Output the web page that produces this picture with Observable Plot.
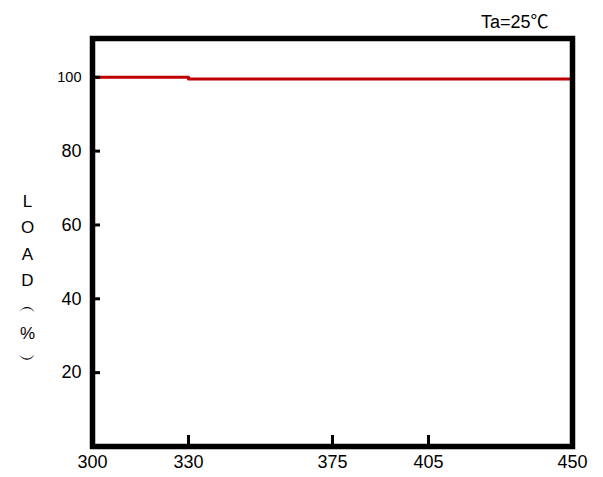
<!DOCTYPE html>
<html>
<head>
<meta charset="utf-8">
<script src="https://cdn.jsdelivr.net/npm/d3@7"></script>
<script src="https://cdn.jsdelivr.net/npm/@observablehq/plot@0.6"></script>
<style>
  body { margin: 0; background: #fff; }
  svg { font-family: "Liberation Sans", "Noto Sans CJK SC", Arial, sans-serif; }
</style>
</head>
<body>
<div id="chart"></div>
<script>
// Data
const temps = [300, 330, 330, 450];
const loads = [100, 100, 99.5, 99.5];
const xTicks = [300, 330, 375, 405, 450];
const yTicks = [20, 40, 60, 80, 100];
const yLabel = "L\nO\nA\nD\n︵\n%\n︶";
const note = "Ta=25℃";

const data = temps.map((t, i) => ({t, load: loads[i]}));
const fam = "'Liberation Sans', 'Noto Sans CJK SC', Arial, sans-serif";
const famLabel = "'Liberation Sans', Arial, sans-serif";

const chart = Plot.plot({
  width: 603,
  height: 477,
  marginLeft: 92,
  marginRight: 31,
  marginTop: 38,
  marginBottom: 31,
  style: {fontFamily: fam, background: "#fff"},
  x: {domain: [300, 450], axis: null},
  y: {domain: [0, 110.5], axis: null},
  marks: [
    Plot.line(data, {x: "t", y: "load", stroke: "#c00000", strokeWidth: 3}),
    Plot.frame({stroke: "black", strokeWidth: 5.5}),
    Plot.axisX(xTicks, {anchor: "bottom", label: null, tickSize: -11, strokeWidth: 3, tickPadding: 20,
      fontSize: 18, fill: "black", tickFormat: d => String(d)}),
    Plot.axisY(yTicks, {anchor: "left", label: null, tickSize: -8, strokeWidth: 3, tickPadding: 19,
      fontSize: d => d === 100 ? 14.5 : 18, fill: "black", tickFormat: d => String(d)}),
    Plot.text([yLabel], {text: d => d, frameAnchor: "left", dx: -65, dy: 35,
      lineHeight: 1.55, fontSize: 17, fill: "black", textAnchor: "middle", fontFamily: famLabel}),
    Plot.text([note], {text: d => d, frameAnchor: "top-right", dx: -24, dy: -11,
      lineAnchor: "bottom", textAnchor: "end", fontSize: 18, fill: "black", fontFamily: fam})
  ]
});
document.getElementById("chart").appendChild(chart);
</script>
</body>
</html>
